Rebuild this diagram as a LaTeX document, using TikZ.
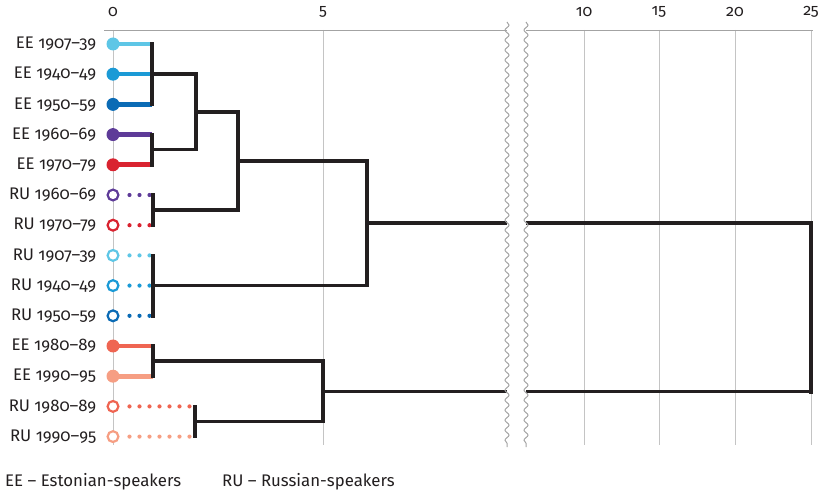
\documentclass[tikz,border=0pt]{standalone}
\usepackage{fontspec}
\setmainfont{Fira Sans}[Numbers=OldStyle]
\usetikzlibrary{positioning,decorations.pathmorphing}

\definecolor{ink}{HTML}{231F20}
\definecolor{gridgray}{HTML}{C4C4C4}
\definecolor{axisgray}{HTML}{A3A3A3}
\definecolor{cya}{HTML}{5EC6E6}
\definecolor{cyb}{HTML}{1B9AD6}
\definecolor{cyc}{HTML}{0B6BB5}
\definecolor{pur}{HTML}{5E3B98}
\definecolor{red}{HTML}{D92330}
\definecolor{cor}{HTML}{EF6552}
\definecolor{sal}{HTML}{F69E83}

\tikzset{
  ee/.style={circle,fill=#1,inner sep=0pt,minimum size=13pt},
  ru/.style={circle,draw=#1,fill=white,line width=2.2pt,inner sep=0pt,minimum size=10.8pt},
  eeline/.style={draw=#1,line width=4.6pt,shorten <=-3pt},
  ruline/.style={draw=#1,line width=4.2pt,line cap=round,dash pattern=on 0pt off 10pt,shorten <=10pt},
  tree/.style={draw=ink,line width=3.6pt,line cap=rect},
  gridline/.style={draw=gridgray,line width=0.9pt},
  lab/.style={text=ink,font=\fontsize{16.8}{18}\selectfont,inner sep=0pt},
  ticklab/.style={text=ink,font=\fontsize{16}{17}\selectfont,inner sep=0pt}
}

\begin{document}
\begin{tikzpicture}[x=1pt,y=-1pt]
  \useasboundingbox (0,0) rectangle (820,497);

  % grid and axis
  \foreach \gx in {113,323,584,659,735,811}
    \draw[gridline] (\gx,30) -- (\gx,445);
  \draw[axisgray,line width=0.9pt] (104,30) -- (813,30);
  \node[ticklab] (t0) at (113,12) {0};
  \node[ticklab] (t5) at (323,12) {5};
  \node[ticklab] (t10) at (584,12) {10};
  \node[ticklab] (t15) at (659,12) {15};
  \node[ticklab] (t20) at (735,12) {20};
  \node[ticklab] (t25) at (811,12) {25};

  % leaves
  \node[ee=cya] (e0) at (113,44) {};
  \node[ee=cyb] (e1) at (113,74.2) {};
  \node[ee=cyc] (e2) at (113,104.4) {};
  \node[ee=pur] (e3) at (113,134.6) {};
  \node[ee=red] (e4) at (113,164.8) {};
  \node[ru=pur] (r5) at (113,195) {};
  \node[ru=red] (r6) at (113,225.2) {};
  \node[ru=cya] (r7) at (113,255.4) {};
  \node[ru=cyb] (r8) at (113,285.6) {};
  \node[ru=cyc] (r9) at (113,315.8) {};
  \node[ee=cor] (e10) at (113,346) {};
  \node[ee=sal] (e11) at (113,376.2) {};
  \node[ru=cor] (r12) at (113,406.4) {};
  \node[ru=sal] (r13) at (113,436.6) {};

  \node[lab,anchor=east,left=10pt of e0] {EE 1907–39};
  \node[lab,anchor=east,left=10pt of e1] {EE 1940–49};
  \node[lab,anchor=east,left=10pt of e2] {EE 1950–59};
  \node[lab,anchor=east,left=10pt of e3] {EE 1960–69};
  \node[lab,anchor=east,left=10pt of e4] {EE 1970–79};
  \node[lab,anchor=east,left=10pt of r5] {RU 1960–69};
  \node[lab,anchor=east,left=10pt of r6] {RU 1970–79};
  \node[lab,anchor=east,left=10pt of r7] {RU 1907–39};
  \node[lab,anchor=east,left=10pt of r8] {RU 1940–49};
  \node[lab,anchor=east,left=10pt of r9] {RU 1950–59};
  \node[lab,anchor=east,left=10pt of e10] {EE 1980–89};
  \node[lab,anchor=east,left=10pt of e11] {EE 1990–95};
  \node[lab,anchor=east,left=10pt of r12] {RU 1980–89};
  \node[lab,anchor=east,left=10pt of r13] {RU 1990–95};

  % join points
  \coordinate (ka) at (152,74.2);
  \coordinate (kb) at (152,149.7);
  \coordinate (kab) at (196,111.95);
  \coordinate (kc) at (153,210.1);
  \coordinate (kabc) at (238,161);
  \coordinate (kd) at (153,285.6);
  \coordinate (kabcd) at (367,223.3);
  \coordinate (ke) at (153,361.1);
  \coordinate (kf) at (195,421.5);
  \coordinate (kef) at (323,391.3);
  \coordinate (kroot) at (811,307.3);

  % leaf lines
  \draw[eeline=cya] (e0) -- (e0 -| ka);
  \draw[eeline=cyb] (e1) -- (e1 -| ka);
  \draw[eeline=cyc] (e2) -- (e2 -| ka);
  \draw[eeline=pur] (e3) -- (e3 -| kb);
  \draw[eeline=red] (e4) -- (e4 -| kb);
  \draw[ruline=pur] (r5) -- (r5 -| kc);
  \draw[ruline=red] (r6) -- (r6 -| kc);
  \draw[ruline=cya] (r7) -- (r7 -| kd);
  \draw[ruline=cyb] (r8) -- (r8 -| kd);
  \draw[ruline=cyc] (r9) -- (r9 -| kd);
  \draw[eeline=cor] (e10) -- (e10 -| ke);
  \draw[eeline=sal] (e11) -- (e11 -| ke);
  \draw[ruline=cor] (r12) -- (r12 -| kf);
  \draw[ruline=sal] (r13) -- (r13 -| kf);

  % tree
  \draw[tree] (ka |- e0) -- (ka |- e2);
  \draw[tree] (kb |- e3) -- (kb |- e4);
  \draw[tree] (kc |- r5) -- (kc |- r6);
  \draw[tree] (kd |- r7) -- (kd |- r9);
  \draw[tree] (ke |- e10) -- (ke |- e11);
  \draw[tree] (kf |- r12) -- (kf |- r13);
  \draw[tree,line cap=butt] (ka) -- (kab |- ka) -- (kab |- kb) -- (kb);
  \draw[tree,line cap=butt] (kab) -- (kabc |- kab) -- (kabc |- kc) -- (kc);
  \draw[tree,line cap=butt] (kabc) -- (kabcd |- kabc) -- (kabcd |- kd) -- (kd);
  \draw[tree,line cap=butt] (ke) -- (kef |- ke) -- (kef |- kf) -- (kf);
  \draw[tree,line cap=butt] (kabcd) -- (kroot |- kabcd) -- (kroot |- kef) -- (kef);
  \draw[tree,line width=4.6pt] (kroot |- kabcd) -- (kroot |- kef);

  % axis break
  \fill[white] (507,20) rectangle (526,449);
  \draw[axisgray,line width=1pt,decorate,decoration={snake,segment length=10pt,amplitude=2pt}]
    (507,22) -- (507,447);
  \draw[axisgray,line width=1pt,decorate,decoration={snake,segment length=10pt,amplitude=2pt}]
    (526,22) -- (526,447);

  % legend
  \node[lab,anchor=west] (lee) at (5,482) {EE – Estonian-speakers};
  \node[lab,anchor=west] (lru) at (222,482) {RU – Russian-speakers};
\end{tikzpicture}
\end{document}
